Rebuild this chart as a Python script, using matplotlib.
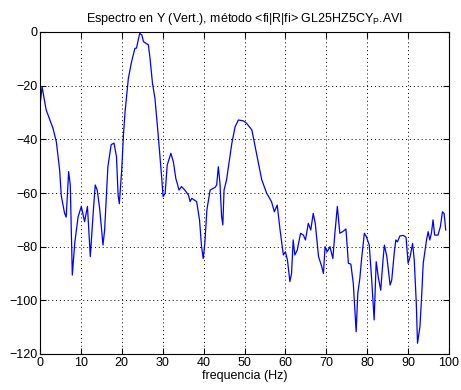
import matplotlib
matplotlib.use("Agg")
import matplotlib.pyplot as plt

plt.rcParams['font.family'] = ['Liberation Sans', 'DejaVu Sans']
plt.rcParams['mathtext.fontset'] = 'custom'
plt.rcParams['mathtext.rm'] = 'Liberation Sans'
plt.rcParams['mathtext.it'] = 'Liberation Sans'

freq = [0.0, 0.5, 1.5, 3.2, 4.0, 4.8, 5.2, 6.0, 6.4, 7.0, 7.4, 7.9, 8.5, 9.3, 10.1, 10.9, 11.6,
        12.3, 13.0, 13.5, 14.0, 14.6, 15.4, 15.8, 16.6, 17.4, 18.1, 18.7, 19.1, 19.4, 20.0, 20.4,
        20.8, 21.6, 22.4, 23.2, 23.6, 24.0, 24.4, 24.9, 25.3, 25.9, 26.5, 26.9, 27.5, 28.1, 28.9,
        29.7, 30.1, 30.6, 31.1, 32.0, 32.6, 33.2, 34.0, 34.6, 35.4, 36.3, 36.7, 37.1, 38.3, 39.0,
        39.5, 39.9, 40.3, 40.8, 41.6, 42.8, 43.2, 43.6, 44.0, 44.4, 44.7, 45.0, 45.6, 46.3, 46.9,
        47.7, 48.5, 49.7, 50.5, 51.8, 52.6, 53.4, 54.2, 55.4, 56.6, 57.3, 58.0, 58.7, 59.5, 60.0,
        60.5, 61.1, 61.5, 61.9, 62.3, 62.9, 63.7, 64.4, 64.9, 65.6, 66.2, 66.8, 67.3, 68.1, 68.9,
        69.3, 69.7, 70.2, 70.9, 71.6, 72.1, 72.7, 73.3, 74.0, 74.8, 75.4, 76.0, 76.6, 77.3, 77.7,
        78.2, 78.6, 79.3, 79.8, 80.5, 81.1, 81.7, 82.2, 82.7, 83.3, 83.9, 84.2, 84.8, 85.6, 86.0,
        86.6, 87.0, 87.4, 88.0, 88.8, 89.5, 90.0, 90.5, 91.1, 91.5, 92.0, 92.3, 92.9, 93.3, 93.7,
        94.5, 94.9, 95.3, 95.7, 96.1, 96.5, 97.3, 97.9, 98.4, 98.8, 99.2]
level = [-27.5, -20.4, -29.0, -36.0, -41.0, -51.4, -61.0, -67.5, -69.0, -52.0, -57.0, -90.6, -78.6,
         -69.0, -65.0, -70.7, -65.0, -83.7, -67.5, -57.0, -59.0, -66.0, -79.4, -73.8, -50.2, -42.0,
         -41.4, -46.5, -60.8, -64.0, -50.8, -38.4, -29.7, -17.3, -11.0, -6.1, -6.0, -3.0, -0.5, -1.1,
         -3.6, -4.2, -4.8, -9.8, -19.1, -24.7, -38.4, -53.3, -61.4, -60.1, -49.6, -45.2, -48.3, -54.5,
         -58.9, -57.6, -58.9, -60.8, -63.2, -62.0, -63.2, -70.0, -80.0, -84.4, -78.8, -66.3, -58.9,
         -57.9, -57.0, -50.2, -56.4, -68.8, -71.9, -58.9, -55.2, -47.7, -41.5, -35.3, -32.8, -33.1,
         -34.0, -36.5, -42.7, -48.9, -55.0, -60.0, -63.2, -67.0, -64.5, -73.8, -83.1, -81.9, -85.0,
         -93.0, -90.0, -77.5, -83.1, -81.3, -75.0, -75.7, -77.5, -71.3, -73.8, -67.6, -71.3, -83.7,
         -87.5, -90.0, -80.0, -81.9, -80.0, -84.4, -75.0, -65.0, -75.0, -74.4, -73.4, -86.2, -86.5,
         -93.7, -111.7, -97.4, -91.8, -85.0, -75.0, -76.3, -79.4, -92.4, -107.3, -85.6, -91.2, -96.2,
         -84.4, -79.4, -83.7, -94.3, -92.4, -82.5, -77.5, -78.2, -76.0, -75.8, -76.5, -86.2, -83.7,
         -78.8, -85.0, -101.0, -116.0, -109.8, -98.7, -86.2, -77.5, -74.4, -77.5, -75.0, -70.0, -75.7,
         -75.7, -72.5, -67.0, -67.6, -73.8]

xticks = [0, 10, 20, 30, 40, 50, 60, 70, 80, 90, 100]
yticks = [-120, -100, -80, -60, -40, -20, 0]

fig = plt.figure(figsize=(4.61, 3.90), dpi=100)
ax = fig.add_axes([40 / 461, 36 / 390, 409 / 461, 322 / 390])
ax.plot(freq, level, color=(0, 0, 1), linewidth=0.9)
ax.set_xlim(0, 100)
ax.set_ylim(-120, 0)
ax.set_xticks(xticks)
ax.set_yticks(yticks)
ax.grid(True, linestyle=(0, (1, 3)), color='black', linewidth=0.7)
ax.tick_params(direction='in', length=4, top=True, right=True, labelsize=9, pad=2)
for s in ax.spines.values():
    s.set_linewidth(0.8)
ax.set_title(r'Espectro en Y (Vert.), método <fi|R|fi> GL25HZ5CY$_\mathrm{P}$.AVI', fontsize=9, pad=7)
ax.set_xlabel('frequencia (Hz)', fontsize=9, labelpad=1)
fig.savefig('out.png', dpi=100, facecolor='white')
